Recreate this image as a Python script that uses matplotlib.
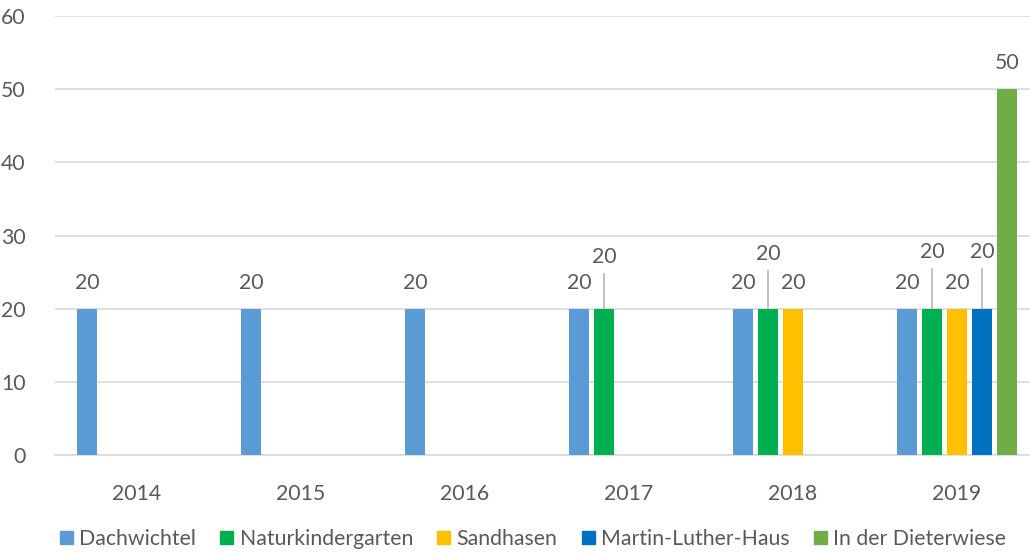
import matplotlib.pyplot as plt
from matplotlib.patches import Patch
import numpy as np

years = ['2014', '2015', '2016', '2017', '2018', '2019']
series_names = ['Dachwichtel', 'Naturkindergarten', 'Sandhasen',
                'Martin-Luther-Haus', 'In der Dieterwiese']
dachwichtel = [20, 20, 20, 20, 20, 20]
naturkindergarten = [0, 0, 0, 20, 20, 20]
sandhasen = [0, 0, 0, 0, 20, 20]
martin_luther = [0, 0, 0, 0, 0, 20]
dieterwiese = [0, 0, 0, 0, 0, 50]
series = [dachwichtel, naturkindergarten, sandhasen, martin_luther, dieterwiese]

colors = ['#5B9BD5', '#00B050', '#FFC000', '#0070C0', '#70AD47']
text_col = '#595959'
grid_col = '#D9D9D9'
fs = 15.3

# labels that excel pushed up with a leader line: (series index, year index) -> lift in px
lifted = {(1, 3): 52, (1, 4): 55, (1, 5): 57, (3, 5): 57}

plt.rcParams['font.family'] = ['Lato', 'DejaVu Sans']
fig = plt.figure(figsize=(10.3, 5.53), dpi=100)
ax = fig.add_axes([55 / 1030, 98 / 553, 984 / 1030, 439 / 553])

x = np.arange(len(years))
slot = 25 / 164
width = 20 / 164
px = 0.72  # points per pixel

for i, vals in enumerate(series):
    pos = x + (i - 2) * slot
    ax.bar(pos, vals, width=width, color=colors[i], zorder=3)
    for j, v in enumerate(vals):
        if v == 0:
            continue
        lift = lifted.get((i, j))
        if lift is None:
            ax.annotate(str(v), (pos[j], v), xytext=(0, 26 * px), textcoords='offset points',
                        ha='center', va='center', fontsize=fs, color=text_col)
        else:
            ax.annotate(str(v), (pos[j], v), xytext=(0, lift * px), textcoords='offset points',
                        ha='center', va='center', fontsize=fs, color=text_col)
            ax.annotate('', (pos[j], v), xytext=(0, (lift - 17) * px), textcoords='offset points',
                        arrowprops=dict(arrowstyle='-', color='#A6A6A6', lw=1,
                                        shrinkA=0, shrinkB=0))

ax.set_xlim(-0.5, 5.5)
ax.set_ylim(0, 60)
ax.set_yticks(range(0, 61, 10))
ax.set_xticks(x)
ax.set_xticklabels(years)
ax.yaxis.grid(True, color=grid_col, lw=1.2, zorder=0)
ax.set_axisbelow(True)
for s in ['top', 'right', 'left']:
    ax.spines[s].set_visible(False)
ax.spines['bottom'].set_color(grid_col)
ax.spines['bottom'].set_linewidth(1.2)
ax.tick_params(axis='both', length=0, labelsize=fs, colors=text_col)
ax.tick_params(axis='y', pad=21)
ax.tick_params(axis='x', pad=21)

handles = [Patch(color=c, label=n) for c, n in zip(colors, series_names)]
leg = fig.legend(handles=handles, loc='center', bbox_to_anchor=(533 / 1030, 1 - 539 / 553),
                 ncol=5, frameon=False, fontsize=fs, handlelength=0.6, handleheight=0.6,
                 handletextpad=0.3, columnspacing=1.15, labelcolor=text_col)

fig.savefig('out.png', dpi=100)
